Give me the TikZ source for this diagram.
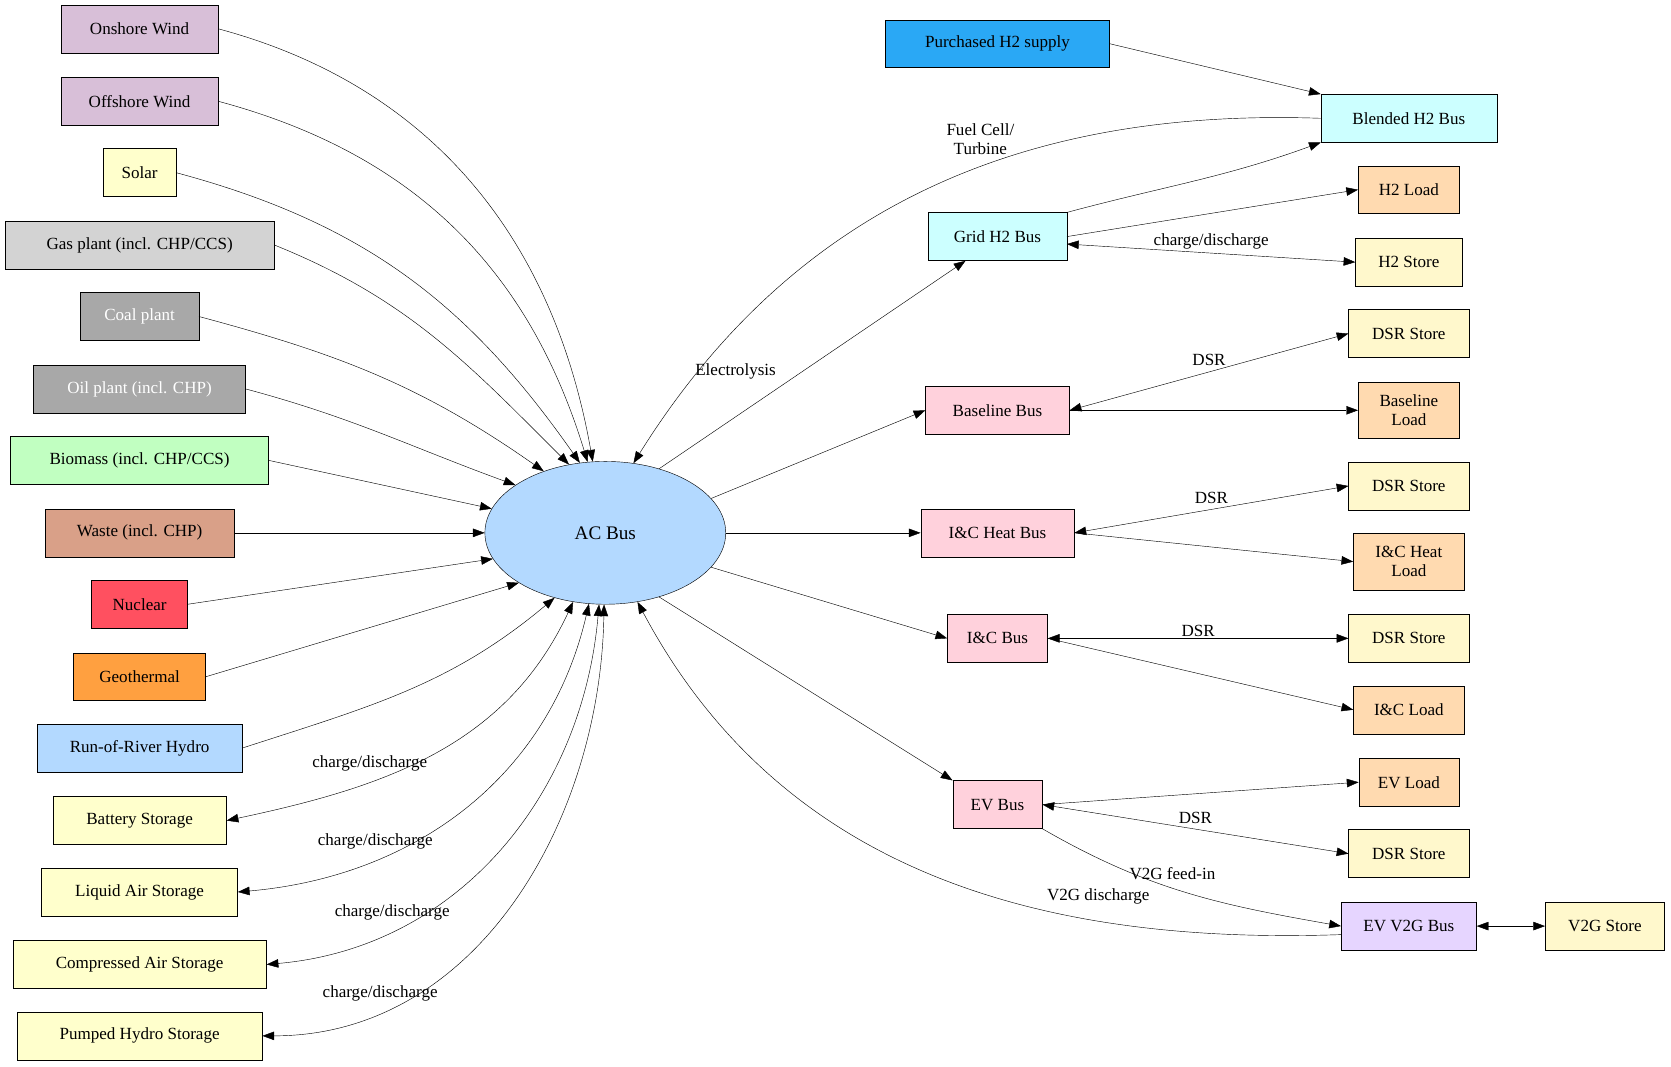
\documentclass[tikz,border=0pt]{standalone}
\usepackage{fontspec}
\setmainfont{Liberation Serif}
\usetikzlibrary{arrows.meta,shapes.geometric}

\tikzset{
    box/.style={draw, rectangle, minimum height=45pt, inner sep=4pt, font=\fontsize{16}{18}\selectfont, align=center},
    gen/.style={box, minimum width=#1},
    arr/.style={-{Triangle[length=11pt,width=8pt]}},
    darr/.style={{Triangle[length=11pt,width=8pt]}-{Triangle[length=11pt,width=8pt]}},
    lbl/.style={font=\fontsize{16}{18}\selectfont, align=center}
}

\definecolor{wind}{HTML}{D8BFD8}
\definecolor{sun}{HTML}{FFFFCC}
\definecolor{gasc}{HTML}{D3D3D3}
\definecolor{coalc}{HTML}{A8A8A8}
\definecolor{bio}{HTML}{C1FFC1}
\definecolor{waste}{HTML}{D9A088}
\definecolor{nuc}{HTML}{FF5060}
\definecolor{geo}{HTML}{FFA040}
\definecolor{hydro}{HTML}{B3D9FF}
\definecolor{purch}{HTML}{2AA8F5}
\definecolor{htwo}{HTML}{CCFFFF}
\definecolor{bus}{HTML}{FFD1DC}
\definecolor{load}{HTML}{FFDAB0}
\definecolor{store}{HTML}{FFF8CC}
\definecolor{vtog}{HTML}{E6D5FF}

\begin{document}
\begin{tikzpicture}[x=1pt, y=1pt]
    \useasboundingbox (0,0) rectangle (1568,-1001);

    % generators
    \node[gen=147pt, fill=wind] (onshore) at (131,-27) {Onshore Wind};
    \node[gen=147pt, fill=wind] (offshore) at (131,-95) {Offshore Wind};
    \node[gen=68pt, fill=sun] (solar) at (131,-162) {Solar};
    \node[gen=253pt, fill=gasc] (gas) at (131,-230) {Gas plant (incl. CHP/CCS)};
    \node[gen=111pt, fill=coalc, text=white] (coal) at (131,-297) {Coal plant};
    \node[gen=199pt, fill=coalc, text=white] (oil) at (131,-365) {Oil plant (incl. CHP)};
    \node[gen=242pt, fill=bio] (biomass) at (131,-432) {Biomass (incl. CHP/CCS)};
    \node[gen=177pt, fill=waste] (waste) at (131,-500) {Waste (incl. CHP)};
    \node[gen=90pt, fill=nuc] (nuclear) at (131,-567) {Nuclear};
    \node[gen=124pt, fill=geo] (geothermal) at (131,-635) {Geothermal};
    \node[gen=192pt, fill=hydro] (ror) at (131,-702) {Run-of-River Hydro};
    \node[gen=163pt, fill=sun] (battery) at (131,-770) {Battery Storage};
    \node[gen=184pt, fill=sun] (liquid) at (131,-837) {Liquid Air Storage};
    \node[gen=238pt, fill=sun] (compressed) at (131,-905) {Compressed Air Storage};
    \node[gen=230pt, fill=sun] (pumped) at (131,-972) {Pumped Hydro Storage};

    % central bus
    \node[draw, ellipse, fill=hydro, minimum width=226pt, minimum height=134pt,
        font=\fontsize{18}{20}\selectfont] (ac) at (568,-500) {AC Bus};

    % buses
    \node[gen=210pt, fill=purch] (purchased) at (936,-41) {Purchased H2 supply};
    \node[gen=130pt, fill=htwo] (gridh2) at (936,-222) {Grid H2 Bus};
    \node[gen=135pt, fill=bus] (baseline) at (936,-385) {Baseline Bus};
    \node[gen=144pt, fill=bus] (icheat) at (936,-500) {I\&C Heat Bus};
    \node[gen=94pt, fill=bus] (ic) at (936,-599) {I\&C Bus};
    \node[gen=84pt, fill=bus] (ev) at (936,-755) {EV Bus};

    % loads and stores
    \node[gen=165pt, fill=htwo] (blended) at (1322,-111) {Blended H2 Bus};
    \node[gen=95pt, fill=load] (h2load) at (1322,-178) {H2 Load};
    \node[gen=100pt, fill=store] (h2store) at (1322,-246) {H2 Store};
    \node[gen=113pt, fill=store] (dsrbase) at (1322,-313) {DSR Store};
    \node[gen=95pt, fill=load, minimum height=53pt, inner sep=2pt] (baseload) at (1322,-385) {Baseline\\Load};
    \node[gen=113pt, fill=store] (dsrheat) at (1322,-456) {DSR Store};
    \node[gen=104pt, fill=load, minimum height=53pt, inner sep=2pt] (heatload) at (1322,-527) {I\&C Heat\\Load};
    \node[gen=113pt, fill=store] (dsric) at (1322,-599) {DSR Store};
    \node[gen=104pt, fill=load] (icload) at (1322,-666) {I\&C Load};
    \node[gen=94pt, fill=load] (evload) at (1322,-734) {EV Load};
    \node[gen=113pt, fill=store] (dsrev) at (1322,-801) {DSR Store};
    \node[gen=127pt, fill=vtog] (evv2g) at (1322,-869) {EV V2G Bus};
    \node[gen=112pt, fill=store] (v2gstore) at (1506,-869) {V2G Store};

    \coordinate (gridin) at ([xshift=-30pt]gridh2.south);
    \coordinate (gridst) at ([yshift=-7pt]gridh2.east);
    \coordinate (v2gout) at ([yshift=-8pt]evv2g.west);

    % generation into AC bus
    \draw[arr] (onshore.east) to[out=-15, in=100] (ac.100);
    \draw[arr] (offshore.east) to[out=-15, in=107] (ac.104);
    \draw[arr] (solar.east) to[out=-15, in=125] (ac.110);
    \draw[arr] (gas.east) to[out=-22, in=135] (ac.118);
    \draw[arr] (coal.east) to[out=-15, in=145] (ac.135);
    \draw[arr] (oil.east) to[out=-15, in=160] (ac.152);
    \draw[arr] (biomass.east) -- (ac.168);
    \draw[arr] (waste.east) -- (ac.180);
    \draw[arr] (nuclear.east) -- (ac.193);
    \draw[arr] (geothermal.east) -- (ac.210);
    \draw[arr] (ror.east) to[out=18, in=-140] (ac.232);
    \draw[darr] (battery.east) to[out=12, in=-115] node[lbl, pos=0.33, above=6pt] {charge/discharge} (ac.245);
    \draw[darr] (liquid.east) to[out=5, in=-103] node[lbl, pos=0.28, above=6pt] {charge/discharge} (ac.257);
    \draw[darr] (compressed.east) to[out=5, in=-95] node[lbl, pos=0.24, above=6pt] {charge/discharge} (ac.265);
    \draw[darr] (pumped.east) to[out=0, in=-91] node[lbl, pos=0.2, above=6pt] {charge/discharge} (ac.269);

    % hydrogen
    \draw[arr] (ac.50) -- node[lbl, pos=0.4, above left=2pt] {Electrolysis} (gridin);
    \draw[arr] (blended.west) to[out=178, in=58] node[lbl, pos=0.42, above=8pt] {Fuel Cell/\\Turbine} (ac.68);
    \draw[arr] (purchased.east) -- (blended.north west);
    \draw[arr] (gridh2.north east) to[out=15, in=200] (blended.south west);
    \draw[arr] (gridh2.east) -- (h2load.west);
    \draw[darr] (gridst) -- node[lbl, above] {charge/discharge} (h2store.west);

    % demand buses
    \draw[arr] (ac.18) -- (baseline.west);
    \draw[darr] (baseline.east) -- node[lbl, above=2pt] {DSR} (dsrbase.west);
    \draw[arr] (baseline.east) -- (baseload.west);
    \draw[arr] (ac.east) -- (icheat.west);
    \draw[darr] (icheat.east) -- node[lbl, above=2pt] {DSR} (dsrheat.west);
    \draw[arr] (icheat.east) -- (heatload.west);
    \draw[arr] (ac.-18) -- (ic.west);
    \draw[darr] (ic.east) -- node[lbl, above=-2pt] {DSR} (dsric.west);
    \draw[arr] (ic.east) -- (icload.west);
    \draw[arr] (ac.-50) -- (ev.north west);
    \draw[arr] (ev.east) -- (evload.west);
    \draw[darr] (ev.east) -- node[lbl, above=2pt] {DSR} (dsrev.west);
    \draw[arr] (ev.south east) to[out=-30, in=170] node[lbl, pos=0.45, above=4pt] {V2G feed-in} (evv2g.west);
    \draw[arr] (v2gout) to[out=182, in=-62] node[lbl, pos=0.28, above=12pt] {V2G discharge} (ac.-65);
    \draw[darr] (evv2g.east) -- (v2gstore.west);
\end{tikzpicture}
\end{document}
